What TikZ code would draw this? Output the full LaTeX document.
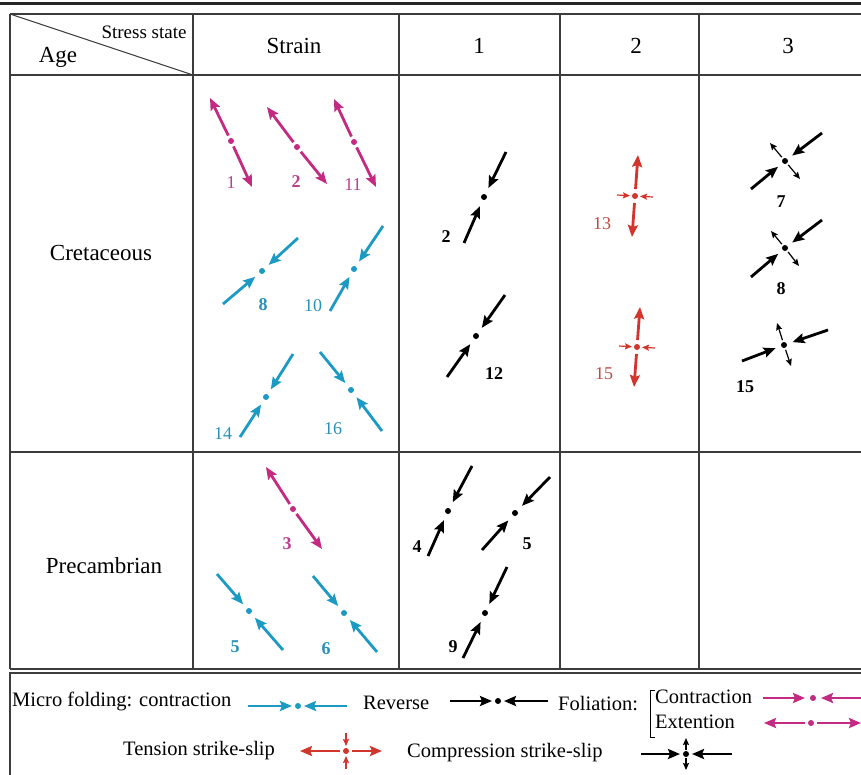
\documentclass[tikz,border=0pt]{standalone}
\usepackage{fontspec}
\setmainfont{Liberation Serif}
\usetikzlibrary{arrows.meta,calc}
\definecolor{mag}{HTML}{C42A82}
\definecolor{cya}{HTML}{1C9AC4}
\definecolor{rd}{HTML}{D2352B}
\definecolor{magt}{HTML}{B8408E}
\definecolor{cyat}{HTML}{2A90B8}
\definecolor{rdt}{HTML}{C24A42}
\definecolor{gridc}{HTML}{3C3C3C}
% #1 colour, #2 style, #3 gap, #4 end A, #5 dot, #6 end B
\newcommand\ConvSym[6]{%
  \draw[#2,#1] #4 -- ($#5!#3!#4$);
  \draw[#2,#1] #6 -- ($#5!#3!#6$);}
\newcommand\DivSym[6]{%
  \draw[#2,#1] ($#5!#3!#4$) -- #4;
  \draw[#2,#1] ($#5!#3!#6$) -- #6;}
\newcommand\DotAt[2]{\fill[#1] #2 circle[radius=3pt];}
\begin{document}
\begin{tikzpicture}[x=1pt,y=-1pt,
  big/.style={line width=2.8pt,-{Stealth[length=12pt,width=10pt,inset=2pt]}},
  small/.style={line width=1.2pt,-{Stealth[length=7pt,width=6pt,inset=1pt]}},
  gridline/.style={line width=1.3pt,draw=gridc},
  num/.style={font=\fontsize{18}{20}\selectfont,inner sep=0pt},
  bnum/.style={font=\fontsize{18}{20}\selectfont\bfseries,inner sep=0pt},
  head/.style={font=\fontsize{23}{26}\selectfont,inner sep=0pt},
  leg/.style={font=\fontsize{20.5}{24}\selectfont,inner sep=0pt,anchor=west}]
\useasboundingbox (0,0) rectangle (861,774);
\fill[white] (0,0) rectangle (861,774);
% top rule
\draw[line width=3pt,black!85] (0,3) -- (861,3);
% table grid
\draw[gridline] (10,14) -- (870,14);
\draw[gridline] (10,75) -- (870,75);
\draw[gridline] (10,452) -- (870,452);
\draw[gridline] (10,669) -- (870,669);
\foreach \x in {10,193,399,560,699} \draw[gridline] (\x,14) -- (\x,669);
\draw[line width=1pt,gridc] (10,14) -- (193,75);
% legend frame
\draw[gridline] (870,673) -- (10,673) -- (10,780);
% header texts
\node[font=\fontsize{19}{22}\selectfont,inner sep=0pt] (hstress) at (144,32) {Stress state};
\node[head] (hage) at (58,57) {Age};
\node[head] (hstrain) at (294,46) {Strain};
\node[head] (h1) at (479,46) {1};
\node[head] (h2) at (636,46) {2};
\node[head] (h3) at (788,46) {3};
\node[head] (rcret) at (101,253) {Cretaceous};
\node[head] (rprec) at (104,566) {Precambrian};
% ---- Cretaceous / Strain : magenta extension
\DivSym{mag}{big}{6pt}{(210,98)}{(231,141)}{(252,187)} \DotAt{mag}{(231,141)}
\DivSym{mag}{big}{6pt}{(267,107)}{(297,147)}{(327,184)} \DotAt{mag}{(297,147)}
\DivSym{mag}{big}{6pt}{(334,99)}{(354,142)}{(376,187)} \DotAt{mag}{(354,142)}
\node[num,text=magt] (n1) at (231,183) {1};
\node[bnum,text=magt] (n2) at (296,182) {2};
\node[num,text=magt] (n11) at (353,185) {11};
% cyan contraction
\ConvSym{cya}{big}{9pt}{(298,238)}{(262,271)}{(223,304)} \DotAt{cya}{(262,271)}
\ConvSym{cya}{big}{9pt}{(383,226)}{(354,269)}{(330,311)} \DotAt{cya}{(354,269)}
\ConvSym{cya}{big}{9pt}{(293,354)}{(266,397)}{(240,437)} \DotAt{cya}{(266,397)}
\ConvSym{cya}{big}{9pt}{(320,352)}{(351,390)}{(382,431)} \DotAt{cya}{(351,390)}
\node[bnum,text=cyat] (n8) at (263,305) {8};
\node[num,text=cyat] (n10) at (313,306) {10};
\node[num,text=cyat] (n14) at (223,434) {14};
\node[num,text=cyat] (n16) at (333,429) {16};
% ---- Cretaceous / 1 : black reverse
\ConvSym{black}{big}{10pt}{(506,152)}{(484,197)}{(464,243)} \DotAt{black}{(484,197)}
\ConvSym{black}{big}{10pt}{(505,295)}{(476,336)}{(447,377)} \DotAt{black}{(476,336)}
\node[bnum] (c2) at (446,237) {2};
\node[bnum] (c12) at (494,374) {12};
% ---- Cretaceous / 2 : red tension strike-slip
\DivSym{rd}{big}{7pt}{(638,155)}{(635,196)}{(632,237)} \DotAt{rd}{(635,196)}
\ConvSym{rd}{small}{5pt}{(617,195)}{(635,196)}{(653,197)}
\DivSym{rd}{big}{7pt}{(640,307)}{(637,347)}{(634,387)} \DotAt{rd}{(637,347)}
\ConvSym{rd}{small}{5pt}{(619,346)}{(637,347)}{(655,348)}
\node[num,text=rdt] (r13) at (602,224) {13};
\node[num,text=rdt] (r15) at (604,374) {15};
% ---- Cretaceous / 3 : compression strike-slip
\ConvSym{black}{big}{9pt}{(822,133)}{(785,161)}{(751,189)} \DotAt{black}{(785,161)}
\DivSym{black}{small}{5pt}{(770,143)}{(785,161)}{(800,179)}
\ConvSym{black}{big}{9pt}{(822,220)}{(785,248)}{(751,277)} \DotAt{black}{(785,248)}
\DivSym{black}{small}{5pt}{(771,231)}{(785,248)}{(799,266)}
\ConvSym{black}{big}{9pt}{(828,330)}{(784,345)}{(742,361)} \DotAt{black}{(784,345)}
\DivSym{black}{small}{5pt}{(777,323)}{(784,345)}{(791,366)}
\node[bnum] (t7) at (781,202) {7};
\node[bnum] (t8) at (781,289) {8};
\node[bnum] (t15) at (745,387) {15};
% ---- Precambrian / Strain
\DivSym{mag}{big}{6pt}{(266,467)}{(293,509)}{(322,549)} \DotAt{mag}{(293,509)}
\node[bnum,text=magt] (p3) at (287,544) {3};
\ConvSym{cya}{big}{9pt}{(217,574)}{(249,611)}{(283,650)} \DotAt{cya}{(249,611)}
\ConvSym{cya}{big}{9pt}{(313,576)}{(344,613)}{(377,652)} \DotAt{cya}{(344,613)}
\node[bnum,text=cyat] (p5) at (235,647) {5};
\node[bnum,text=cyat] (p6) at (326,649) {6};
% ---- Precambrian / 1
\ConvSym{black}{big}{10pt}{(472,466)}{(448,511)}{(428,556)} \DotAt{black}{(448,511)}
\ConvSym{black}{big}{10pt}{(550,477)}{(515,513)}{(482,550)} \DotAt{black}{(515,513)}
\ConvSym{black}{big}{10pt}{(507,567)}{(485,613)}{(463,658)} \DotAt{black}{(485,613)}
\node[bnum] (q4) at (417,547) {4};
\node[bnum] (q5) at (527,544) {5};
\node[bnum] (q9) at (453,647) {9};
% ---- legend
\node[leg] (lmicro) at (12,701) {Micro folding: contraction};
\ConvSym{cya}{big}{6pt}{(248,706)}{(298,706)}{(347,706)} \DotAt{cya}{(298,706)}
\node[leg] (lrev) at (363,703) {Reverse};
\ConvSym{black}{big}{6pt}{(450,701)}{(498,701)}{(548,701)} \DotAt{black}{(498,701)}
\node[leg] (lfol) at (558,704) {Foliation:};
\draw[line width=1pt] (655,690) -- (650,690) -- (650,737) -- (655,737);
\node[leg] (lcon) at (655,697) {Contraction};
\node[leg] (lext) at (655,722) {Extention};
\ConvSym{mag}{big}{8pt}{(763,698)}{(813,698)}{(868,698)} \DotAt{mag}{(813,698)}
\DivSym{mag}{big}{6pt}{(764,723)}{(811,723)}{(861,723)} \DotAt{mag}{(811,723)}
\node[leg] (lten) at (123,751) {Tension strike-slip};
\DivSym{rd}{big}{6pt}{(300,751)}{(346,751)}{(382,751)} \DotAt{rd}{(346,751)}
\ConvSym{rd}{small}{5pt}{(346,733)}{(346,751)}{(346,769)}
\node[leg] (lcomp) at (407,753) {Compression strike-slip};
\ConvSym{black}{big}{6pt}{(641,754)}{(686,754)}{(732,754)} \DotAt{black}{(686,754)}
\DivSym{black}{small}{4pt}{(686,738)}{(686,754)}{(686,770)}
\end{tikzpicture}
\end{document}
